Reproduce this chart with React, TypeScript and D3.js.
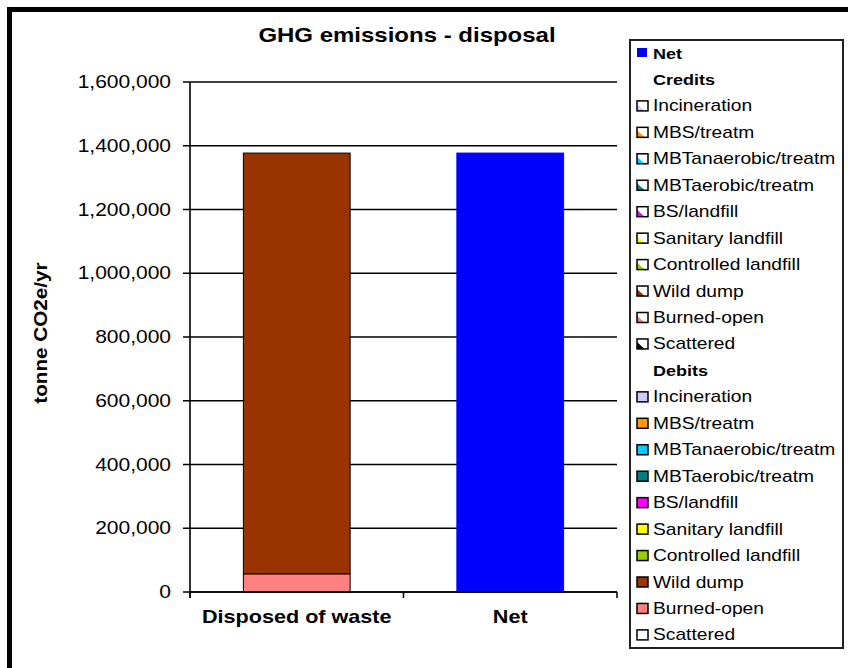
import React from "react";
import * as d3 from "d3";

const categories = ["Disposed of waste", "Net"];
const seriesNames = [
  "Incineration",
  "MBS/treatm",
  "MBTanaerobic/treatm",
  "MBTaerobic/treatm",
  "BS/landfill",
  "Sanitary landfill",
  "Controlled landfill",
  "Wild dump",
  "Burned-open",
  "Scattered",
];
const seriesColors = [
  "#CCCCFF",
  "#FF9900",
  "#00CCFF",
  "#008080",
  "#FF00FF",
  "#FFFF00",
  "#99CC00",
  "#993300",
  "#FF8080",
  "#FFFFFF",
];
// Debits for "Disposed of waste"
const debitValues = [0, 0, 0, 0, 0, 0, 0, 1320000, 57000, 0];
// Credits for "Disposed of waste"
const creditValues = [0, 0, 0, 0, 0, 0, 0, 0, 0, 0];
const netValue = 1377000;
const yTicks = [0, 200000, 400000, 600000, 800000, 1000000, 1200000, 1400000, 1600000];

const FONT = "'Liberation Sans', Arial, sans-serif";

function T(props: {
  x: number;
  y: number;
  size: number;
  anchor?: string;
  weight?: string;
  sx?: number;
  rotate?: number;
  fill?: string;
  children: React.ReactNode;
}) {
  const { x, y, size, anchor = "start", weight = "normal", sx = 1.2, rotate = 0, fill = "#000", children } = props;
  return (
    <text
      transform={`translate(${x},${y}) rotate(${rotate}) scale(${sx},1)`}
      textAnchor={anchor}
      fontFamily={FONT}
      fontSize={size}
      fontWeight={weight}
      fill={fill}
    >
      {children}
    </text>
  );
}

export default function App() {
  const W = 848;
  const H = 668;
  const left = 190, right = 617, top = 82, bottom = 592;
  const x = d3.scaleBand<string>().domain(categories).range([left, right]).paddingInner(0.5).paddingOuter(0.25);
  const y = d3.scaleLinear().domain([0, 1600000]).range([bottom, top]);
  const fmt = d3.format(",");

  // stack debits: last series at bottom
  const order = seriesNames.map((_, i) => i).reverse();
  let acc = 0;
  const segs: { i: number; y0: number; y1: number }[] = [];
  for (const i of order) {
    const v = debitValues[i];
    if (v > 0) {
      segs.push({ i, y0: acc, y1: acc + v });
      acc += v;
    }
  }

  const rowY0 = 53;
  const rowStep = 26.45;
  type Row = { label: string; kind: "net" | "header" | "credit" | "debit"; color?: string };
  const rows: Row[] = [
    { label: "Net", kind: "net", color: "#0000FF" },
    { label: "Credits", kind: "header" },
    ...seriesNames.map((s, i) => ({ label: s, kind: "credit" as const, color: seriesColors[i] })),
    { label: "Debits", kind: "header" },
    ...seriesNames.map((s, i) => ({ label: s, kind: "debit" as const, color: seriesColors[i] })),
  ];
  const sw = 11, sh = 10, swX = 637, txtX = 653;

  return (
    <div style={{ position: "absolute", left: 0, top: 0 }}>
      <svg width={W} height={H} style={{ display: "block" }}>
        <rect x={0} y={0} width={W} height={H} fill="#fff" />
        <rect x={9.5} y={9.5} width={W + 50} height={H + 50} fill="#fff" stroke="#000" strokeWidth={5} />

        {/* title */}
        <T x={407} y={42} size={20} weight="bold" anchor="middle">GHG emissions - disposal</T>

        {/* gridlines */}
        {yTicks.map((t) => (
          <line key={"g" + t} x1={left - 7} x2={right} y1={y(t)} y2={y(t)} stroke="#000" strokeWidth={1.3} />
        ))}
        {/* y tick labels */}
        {yTicks.map((t) => (
          <T key={"l" + t} x={171} y={y(t) + 6} size={17.5} anchor="end">
            {fmt(t)}
          </T>
        ))}
        {/* y axis */}
        <line x1={left} x2={left} y1={top} y2={bottom + 6} stroke="#000" strokeWidth={1.6} />
        {/* x ticks */}
        {[0, 1, 2].map((k) => {
          const xx = left + k * x.step();
          return <line key={"xt" + k} x1={xx} x2={xx} y1={bottom} y2={bottom + 6} stroke="#000" strokeWidth={1.5} />;
        })}

        {/* bars */}
        {segs.map((s) => (
          <rect
            key={"s" + s.i}
            x={x(categories[0])!}
            width={x.bandwidth()}
            y={y(s.y1)}
            height={y(s.y0) - y(s.y1)}
            fill={seriesColors[s.i]}
            stroke="#000"
            strokeWidth={1}
          />
        ))}
        <rect
          x={x(categories[1])!}
          width={x.bandwidth()}
          y={y(netValue)}
          height={y(0) - y(netValue)}
          fill="#0000FF"
          stroke="#0000FF"
          strokeWidth={1}
        />

        {/* x axis */}
        <line x1={left} x2={right} y1={bottom} y2={bottom} stroke="#000" strokeWidth={1.6} />

        {/* x labels */}
        {categories.map((c) => (
          <T key={c} x={x(c)! + x.bandwidth() / 2} y={623} size={18} weight="bold" anchor="middle">
            {c}
          </T>
        ))}

        {/* y label */}
        <T x={47} y={333} size={18} weight="bold" anchor="middle" rotate={-90} sx={1.15}>
          tonne CO2e/yr
        </T>

        {/* legend */}
        <rect x={630} y={40} width={213} height={608} fill="#fff" stroke="#222" strokeWidth={2} />
        {rows.map((r, i) => {
          const cy = rowY0 + i * rowStep;
          const sy = cy - sh / 2;
          return (
            <g key={"lg" + i}>
              {r.kind === "net" && <rect x={swX} y={sy} width={sw - 1} height={sh - 1} fill={r.color} />}
              {r.kind === "debit" && (
                <rect x={swX} y={sy} width={sw} height={sh} fill={r.color} stroke="#000" strokeWidth={1.5} />
              )}
              {r.kind === "credit" && (
                <g>
                  <rect x={swX} y={sy} width={sw} height={sh} fill="#fff" />
                  <polygon
                    points={`${swX},${sy + sh} ${swX},${sy + sh * 0.3} ${swX + sw * 0.7},${sy + sh}`}
                    fill={r.color === "#FFFFFF" ? "#000" : r.color}
                  />
                  <rect x={swX} y={sy} width={sw} height={sh} fill="none" stroke="#000" strokeWidth={1.5} />
                </g>
              )}
              <T
                x={txtX}
                y={cy + 5.5}
                size={r.kind === "net" || r.kind === "header" ? 15 : 16}
                weight={r.kind === "net" || r.kind === "header" ? "bold" : "normal"}
              >
                {r.label}
              </T>
            </g>
          );
        })}
      </svg>
    </div>
  );
}
